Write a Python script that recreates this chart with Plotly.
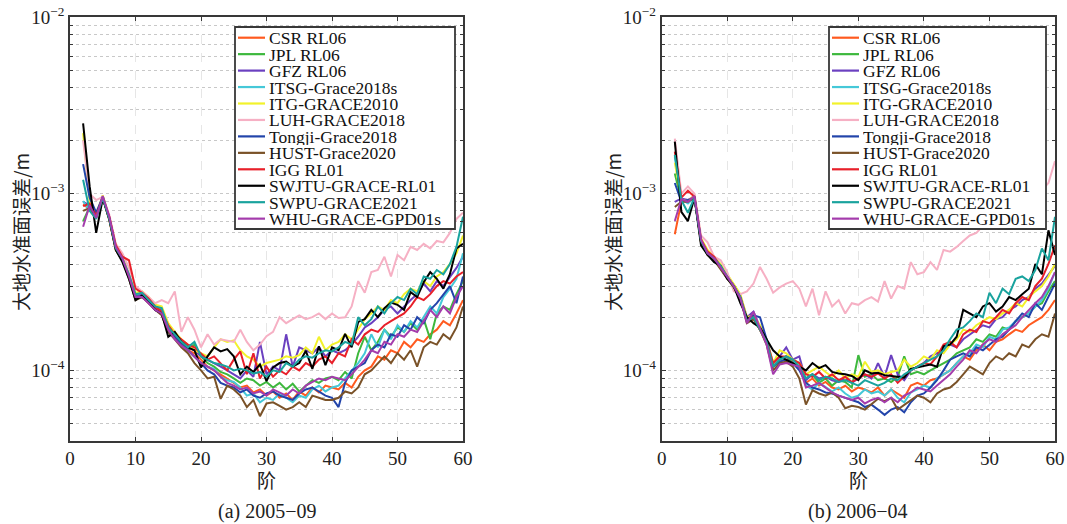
import plotly.graph_objects as go

# ---------------- data (units of 1e-4 m), degree 2..60 ----------------
UNIT = 1e-4
degrees = list(range(2, 61))

names = ["CSR RL06", "JPL RL06", "GFZ RL06", "ITSG-Grace2018s", "ITG-GRACE2010",
         "LUH-GRACE2018", "Tongji-Grace2018", "HUST-Grace2020", "IGG RL01",
         "SWJTU-GRACE-RL01", "SWPU-GRACE2021", "WHU-GRACE-GPD01s"]
colors = ["#FF5A1F", "#3DB83D", "#6B40C0", "#45C8D8", "#F2F22A", "#F6B0C4",
          "#2244AA", "#7A5228", "#E8202A", "#000000", "#1AA39E", "#A43CAC"]

# ---- (a) 2005-09 ----
csr_a = [8.7, 8.2, 7.3, 9.5, 7.1, 4.8, 4.2, 3.4, 2.6, 2.65,
         2.45, 2.25, 2.1, 1.7, 1.55, 1.4, 1.3, 1.25, 1.15, 1.05,
         1.0, 0.95, 0.9, 0.85, 0.8, 0.82, 0.75, 0.78, 0.72, 0.76,
         0.7, 0.74, 0.68, 0.76, 0.72, 0.8, 0.75, 0.82, 0.8, 0.78,
         0.85, 0.8, 0.92, 1.0, 1.05, 1.2, 1.15, 1.3, 1.25, 1.45,
         1.35, 1.5, 1.45, 1.6, 1.7, 1.9, 1.8, 2.1, 2.5]
jpl_a = [7.0, 8.4, 7.5, 9.6, 7.2, 4.9, 4.3, 3.4, 2.65, 2.7,
         2.5, 2.3, 2.2, 1.75, 1.6, 1.45, 1.3, 1.4, 1.2, 1.1,
         1.05, 0.98, 0.95, 0.9, 0.85, 0.9, 0.88, 0.82, 0.86, 0.8,
         0.85, 0.78, 0.84, 0.76, 0.82, 0.88, 0.85, 0.9, 0.92, 0.88,
         0.98, 0.9, 1.25, 1.55, 1.3, 1.45, 1.7, 1.55, 1.75, 1.65,
         1.85, 1.7, 1.95, 1.5, 2.1, 2.3, 2.2, 2.7, 3.2]
gfz_a = [9.0, 8.6, 7.4, 9.7, 7.3, 5.0, 4.3, 3.5, 2.6, 2.7,
         2.5, 2.3, 2.2, 1.8, 1.6, 1.45, 1.35, 1.3, 1.2, 1.15,
         1.1, 1.05, 1.0, 0.95, 0.9, 1.0, 0.92, 1.45, 0.95, 1.05,
         1.0, 1.6, 1.05, 1.35, 1.3, 1.25, 1.35, 1.2, 1.3, 1.25,
         1.3, 1.4, 1.55, 1.75, 1.85, 2.0, 2.2, 2.3, 2.1, 2.3,
         2.5, 2.7, 3.1, 2.8, 3.2, 3.0, 3.4, 3.8, 4.4]
itsg_a = [9.1, 8.0, 7.6, 9.5, 7.2, 4.9, 4.3, 3.4, 2.7, 2.75,
          2.55, 2.3, 2.25, 1.7, 1.55, 1.4, 1.3, 1.2, 1.1, 1.05,
          1.02, 0.92, 0.88, 0.86, 0.8, 0.72, 0.74, 0.66, 0.7, 0.68,
          0.74, 0.7, 0.66, 0.72, 0.7, 0.78, 0.82, 0.76, 0.8, 0.82,
          0.9, 1.0, 1.1, 1.25, 1.6, 1.35, 1.7, 1.5, 1.8, 1.65,
          1.9, 1.75, 2.0, 2.3, 2.1, 2.6, 2.9, 3.3, 4.6]
itg_a = [22.0, 9.0, 7.6, 9.8, 7.4, 5.1, 4.4, 3.5, 2.75, 2.8,
         2.6, 2.35, 2.3, 1.85, 1.65, 1.5, 1.4, 1.3, 1.25, 1.2,
         1.35, 1.5, 1.45, 1.48, 1.3, 1.2, 1.15, 1.05, 1.1, 1.12,
         1.15, 1.2, 1.18, 1.22, 1.35, 1.25, 1.55, 1.3, 1.4, 1.45,
         1.6, 1.5, 1.7, 1.95, 2.1, 2.3, 2.2, 2.5, 2.4, 2.7,
         2.9, 2.8, 3.2, 3.0, 3.4, 3.6, 4.0, 4.6, 5.8]
luh_a = [20.0, 10.0, 9.2, 9.6, 7.6, 5.2, 4.6, 3.8, 3.0, 2.8,
         2.6, 2.4, 2.5, 2.4, 2.8, 1.65, 2.0, 1.7, 1.35, 1.6,
         1.4, 1.5, 1.48, 1.45, 1.7, 1.45, 1.3, 1.4, 1.56, 1.65,
         2.0, 1.85, 1.95, 2.05, 1.95, 2.0, 2.1, 1.95, 2.1, 1.98,
         2.0, 2.3, 3.2, 2.75, 3.6, 3.7, 4.4, 3.4, 4.5, 4.2,
         5.0, 4.8, 5.2, 4.9, 5.4, 5.3, 6.0, 7.2, 7.8]
tongji_a = [14.7, 9.5, 7.8, 9.6, 7.3, 4.9, 4.2, 3.4, 2.55, 2.6,
            2.45, 2.2, 2.1, 1.7, 1.55, 1.4, 1.3, 1.2, 1.1, 1.0,
            0.95, 0.85, 0.82, 0.8, 0.75, 0.78, 0.72, 0.7, 0.74, 0.76,
            0.72, 0.7, 0.68, 0.74, 0.78, 0.8, 0.76, 0.72, 0.7, 0.62,
            0.85, 1.0, 1.05, 1.1, 1.3, 1.4, 1.35, 1.6, 1.55, 1.8,
            1.7, 2.0, 1.85, 2.2, 2.4, 2.7, 3.0, 2.4, 3.4]
hust_a = [8.0, 8.3, 7.4, 9.5, 7.1, 4.8, 4.2, 3.3, 2.5, 2.6,
          2.4, 2.2, 2.05, 1.65, 1.5, 1.35, 1.25, 1.1, 1.0, 0.9,
          0.92, 0.69, 0.82, 0.78, 0.72, 0.62, 0.68, 0.55, 0.65, 0.66,
          0.63, 0.6, 0.62, 0.66, 0.62, 0.72, 0.7, 0.68, 0.68, 0.7,
          0.76, 0.74, 0.8, 0.95, 1.0, 1.1, 1.2, 1.1, 1.25, 1.15,
          1.3, 1.05, 1.35, 1.45, 1.4, 1.6, 1.5, 1.75, 2.3]
igg_a = [8.5, 8.8, 7.5, 9.4, 7.4, 5.1, 4.4, 4.2, 2.9, 2.75,
         2.55, 2.3, 2.15, 1.8, 1.6, 1.5, 1.4, 1.35, 1.25, 1.15,
         1.2, 1.1, 1.0, 1.15, 1.28, 0.95, 1.25, 0.9, 1.05, 0.92,
         1.0, 0.95, 1.05, 1.0, 1.1, 1.05, 1.15, 1.2, 1.1, 1.25,
         1.2, 1.5, 1.4, 1.6, 1.7, 1.65, 1.8, 1.9, 2.0, 2.1,
         2.3, 2.6, 2.5, 2.7, 3.0, 3.2, 3.1, 3.4, 3.6]
swjtu_a = [25.0, 11.0, 6.0, 9.4, 7.2, 4.8, 4.1, 3.3, 2.5, 2.65,
           2.45, 2.2, 2.1, 1.55, 1.65, 1.45, 1.35, 1.3, 1.04, 1.2,
           1.35, 1.28, 1.32, 1.2, 0.95, 1.05, 0.98, 1.08, 0.87, 1.04,
           1.1, 1.12, 1.05, 1.1, 1.29, 1.02, 1.37, 1.07, 1.35, 1.3,
           1.61, 1.35, 1.88, 1.95, 2.2, 2.0, 2.25, 2.42, 2.35, 2.2,
           2.77, 2.6, 3.15, 3.6, 3.3, 2.9, 3.5, 4.9, 5.2]
swpu_a = [12.0, 8.0, 7.2, 9.5, 7.2, 4.9, 4.3, 3.5, 2.7, 2.75,
          2.5, 2.3, 2.25, 1.75, 1.6, 1.45, 1.35, 1.45, 1.2, 1.15,
          1.1, 1.08, 1.05, 1.0, 1.02, 1.0, 0.96, 0.98, 0.92, 1.0,
          0.98, 1.1, 1.05, 1.15, 1.2, 1.18, 1.25, 1.3, 1.28, 1.35,
          1.45, 1.4, 2.0, 1.8, 1.95, 2.3, 2.1, 2.4, 2.6, 2.5,
          2.9, 2.7, 3.4, 3.3, 3.7, 3.5, 4.0, 5.0, 7.4]
whu_a = [6.5, 8.6, 7.3, 9.7, 7.4, 5.0, 4.3, 3.4, 2.6, 2.6,
         2.4, 2.2, 2.1, 1.7, 1.5, 1.38, 1.3, 1.2, 1.1, 1.05,
         1.0, 0.92, 0.85, 0.82, 0.78, 0.8, 0.74, 0.76, 0.72, 0.78,
         0.75, 0.72, 0.78, 0.74, 0.82, 0.86, 0.9, 0.88, 0.92, 0.9,
         0.88, 0.95, 1.05, 1.15, 1.3, 1.25, 1.45, 1.4, 1.6, 1.55,
         1.7, 1.65, 1.9, 2.2, 2.0, 2.3, 2.1, 2.6, 3.0]

# ---- (b) 2006-04 ----
csr_b = [5.9, 9.0, 9.2, 9.5, 5.3, 4.5, 4.2, 3.8, 3.3, 3.0,
         2.6, 1.9, 2.0, 1.7, 1.45, 1.05, 1.15, 1.2, 1.1, 1.05,
         0.85, 0.9, 0.82, 0.86, 0.8, 0.78, 0.82, 0.76, 0.8, 0.78,
         0.75, 0.8, 0.72, 0.78, 0.74, 0.7, 0.82, 0.85, 0.82, 0.88,
         0.9, 0.95, 1.0, 1.1, 1.2, 1.15, 1.3, 1.4, 1.3, 1.45,
         1.5, 1.6, 1.7, 1.65, 1.8, 1.9, 2.0, 2.2, 2.5]
jpl_b = [13.0, 9.2, 9.0, 9.6, 5.4, 4.6, 4.3, 3.9, 3.4, 3.0,
         2.6, 1.9, 2.0, 1.7, 1.45, 1.05, 1.15, 1.2, 1.1, 1.05,
         0.9, 0.95, 0.85, 0.9, 0.82, 0.88, 0.86, 0.8, 1.22, 0.92,
         0.95, 0.88, 0.9, 0.86, 0.92, 1.2, 0.95, 0.98, 0.95, 1.0,
         1.05, 1.1, 1.15, 1.25, 1.3, 1.35, 1.5, 1.45, 1.6, 1.55,
         1.75, 1.7, 1.9, 2.0, 2.1, 2.3, 2.4, 2.8, 3.2]
gfz_b = [9.0, 9.4, 9.2, 9.7, 5.5, 4.7, 4.3, 3.9, 3.4, 3.05,
         2.65, 2.0, 2.15, 1.75, 1.5, 1.1, 1.2, 1.35, 1.15, 1.2,
         0.88, 0.95, 0.9, 0.92, 0.88, 0.86, 0.9, 0.85, 0.9, 0.95,
         0.9, 1.1, 0.92, 1.22, 0.95, 0.88, 1.0, 1.05, 1.1, 1.2,
         1.25, 1.3, 1.4, 1.35, 1.5, 1.6, 1.7, 1.8, 1.75, 1.95,
         2.0, 2.2, 2.3, 2.5, 2.6, 2.9, 3.1, 3.5, 3.9]
itsg_b = [16.2, 9.3, 8.8, 9.5, 5.4, 4.6, 4.3, 3.9, 3.4, 3.0,
          2.6, 1.9, 2.0, 1.7, 1.45, 1.05, 1.15, 1.2, 1.15, 1.1,
          0.82, 0.78, 0.85, 0.8, 0.76, 0.8, 0.74, 0.7, 0.72, 0.78,
          0.74, 0.76, 0.72, 0.78, 0.7, 0.66, 0.75, 0.78, 0.82, 0.8,
          0.9, 0.95, 1.0, 1.1, 1.2, 1.25, 1.4, 1.35, 1.55, 1.5,
          1.7, 1.75, 1.9, 2.0, 2.1, 2.3, 2.5, 2.9, 3.6]
itg_b = [15.0, 9.2, 9.1, 9.8, 5.6, 4.8, 4.4, 4.0, 3.5, 3.1,
         2.7, 2.0, 2.05, 1.8, 1.5, 1.1, 1.3, 1.25, 1.15, 1.1,
         0.95, 1.0, 1.05, 0.98, 0.92, 1.0, 0.9, 0.95, 0.92, 1.12,
         0.98, 1.0, 0.95, 0.98, 1.0, 1.15, 1.05, 1.1, 1.2, 1.15,
         1.3, 1.25, 1.4, 1.5, 1.7, 1.65, 1.8, 1.9, 2.0, 1.95,
         2.1, 2.2, 2.4, 2.3, 2.6, 2.8, 3.0, 3.4, 4.0]
luh_b = [20.5, 10.0, 11.0, 10.0, 5.8, 5.3, 4.4, 4.2, 3.6, 2.8,
         2.7, 2.8, 3.1, 3.85, 3.3, 2.75, 2.95, 3.1, 3.2, 2.9,
         2.3, 2.9, 2.05, 2.8, 2.3, 2.5, 2.1, 2.4, 2.35, 2.5,
         2.6, 2.45, 3.2, 2.55, 3.0, 2.9, 4.1, 3.5, 3.6, 4.1,
         3.7, 4.8, 4.7, 5.0, 5.4, 5.8, 6.0, 6.6, 7.2, 7.8,
         8.3, 8.8, 9.3, 10.0, 10.5, 11.0, 10.5, 11.5, 15.3]
tongji_b = [11.5, 9.0, 9.2, 9.5, 5.4, 4.6, 4.3, 3.8, 3.3, 3.0,
            2.6, 1.95, 2.05, 2.0, 1.5, 1.05, 1.12, 1.15, 1.1, 1.0,
            0.85, 0.8, 0.78, 0.75, 0.74, 0.72, 0.7, 0.68, 0.66, 0.62,
            0.64, 0.6, 0.56, 0.6, 0.62, 0.58, 0.66, 0.72, 0.74, 0.8,
            0.88, 1.0, 1.15, 1.2, 1.25, 1.2, 1.35, 1.3, 1.4, 1.5,
            1.55, 1.7, 1.9, 2.1, 2.0, 2.4, 2.2, 2.6, 3.1]
hust_b = [8.4, 9.0, 9.0, 9.5, 5.3, 4.5, 4.2, 3.7, 3.3, 2.95,
          2.55, 1.85, 1.95, 1.7, 1.4, 1.0, 1.1, 1.12, 1.05, 0.9,
          0.64, 0.77, 0.74, 0.72, 0.75, 0.7, 0.61, 0.63, 0.62, 0.6,
          0.64, 0.69, 0.67, 0.7, 0.6, 0.64, 0.68, 0.72, 0.7, 0.66,
          0.74, 0.78, 0.8, 0.86, 0.95, 1.05, 1.0, 0.95, 1.1, 1.2,
          1.15, 1.25, 1.2, 1.4, 1.35, 1.5, 1.6, 1.55, 2.1]
igg_b = [17.3, 9.5, 10.4, 9.6, 5.5, 4.7, 4.4, 3.9, 3.4, 3.0,
         2.6, 1.95, 2.0, 1.7, 1.45, 1.1, 1.2, 1.2, 1.15, 1.1,
         0.95, 0.92, 0.98, 0.9, 0.95, 0.88, 0.92, 0.86, 0.9, 0.95,
         0.92, 0.96, 0.9, 0.95, 0.85, 0.92, 1.0, 1.05, 1.1, 1.08,
         1.2, 1.4, 1.45, 1.35, 1.6, 1.7, 1.65, 1.9, 1.85, 2.0,
         2.2, 2.1, 2.4, 2.6, 2.5, 3.0, 3.3, 4.0, 5.1]
swjtu_b = [19.7, 7.9, 7.0, 9.5, 5.1, 4.5, 4.1, 3.9, 3.3, 3.0,
           2.4, 2.0, 1.85, 1.75, 1.5, 1.3, 1.2, 1.15, 1.1, 1.05,
           1.0, 1.1, 1.03, 1.07, 0.98, 0.96, 0.95, 0.93, 0.88, 1.0,
           0.96, 0.97, 0.94, 0.93, 0.92, 0.91, 1.02, 1.04, 1.06, 1.08,
           1.05, 1.37, 1.4, 1.55, 2.2, 2.1, 2.0, 2.3, 2.4, 2.15,
           2.3, 2.6, 2.5, 2.7, 2.9, 4.0, 3.5, 6.2, 4.5]
swpu_b = [16.6, 9.2, 7.8, 9.5, 5.4, 4.6, 4.3, 3.9, 3.4, 3.0,
          2.6, 1.9, 2.0, 1.7, 1.45, 1.05, 1.15, 1.2, 1.15, 1.05,
          0.9, 0.95, 0.88, 0.92, 0.9, 0.86, 0.88, 0.85, 0.82, 0.88,
          0.85, 0.82, 0.85, 0.9, 0.88, 0.95, 1.0, 1.05, 1.1, 1.15,
          1.2, 1.3, 1.5, 1.7, 1.75, 1.9, 2.1, 2.0, 2.75, 2.4,
          2.9, 2.7, 3.3, 3.4, 3.2, 3.7, 4.9, 4.2, 7.4]
whu_b = [7.0, 9.3, 9.0, 9.7, 5.5, 4.6, 4.3, 3.8, 3.35, 3.0,
         2.55, 1.85, 2.15, 1.75, 1.4, 0.95, 1.08, 1.1, 1.08, 1.05,
         0.8, 0.82, 0.85, 0.8, 0.75, 0.72, 0.7, 0.68, 0.7, 0.65,
         0.68, 0.7, 0.66, 0.7, 0.66, 0.72, 0.75, 0.8, 0.78, 0.76,
         0.82, 0.88, 0.95, 1.05, 1.15, 1.3, 1.25, 1.4, 1.5, 1.45,
         1.6, 1.7, 1.8, 2.0, 2.2, 2.4, 2.6, 3.0, 3.6]

panel_a = [csr_a, jpl_a, gfz_a, itsg_a, itg_a, luh_a, tongji_a, hust_a, igg_a, swjtu_a, swpu_a, whu_a]
panel_b = [csr_b, jpl_b, gfz_b, itsg_b, itg_b, luh_b, tongji_b, hust_b, igg_b, swjtu_b, swpu_b, whu_b]

x_ticks = [0, 10, 20, 30, 40, 50, 60]
y_ticks = [1e-4, 1e-3, 1e-2]
y_ticktext = ["10<sup>−4</sup>", "10<sup>−3</sup>", "10<sup>−2</sup>"]
captions = ["(a) 2005−09", "(b) 2006−04"]
x_title = "阶"
y_title = "大地水准面误差/m"

# ---------------- figure ----------------
W, H = 1067, 524
FONT = "Liberation Serif, Times New Roman, Noto Sans CJK SC, serif"
CJK = "Noto Sans CJK SC, Liberation Serif"


def px(x):
    return x / W


def py(y):
    return 1 - y / H


fig = go.Figure()
for panel, (xa, ya) in zip([panel_a, panel_b], [("x", "y"), ("x2", "y2")]):
    for name, col, vals in zip(names, colors, panel):
        fig.add_trace(go.Scatter(
            x=degrees, y=[v * UNIT for v in vals], mode="lines", name=name,
            line=dict(color=col, width=2), xaxis=xa, yaxis=ya, showlegend=False))

minor_vals = [k * 10.0 ** e for e in (-5, -4, -3) for k in range(2, 10)]

axis_common = dict(showline=True, linecolor="#383838", linewidth=1.8, mirror="allticks",
                   ticks="inside", ticklen=4, tickcolor="#383838", zeroline=False,
                   automargin=False,
                   tickfont=dict(family=FONT, size=19, color="#222222"))

xdomains = [[px(70), px(463)], [px(661.7), px(1055)]]
ydomain = [py(440.7), py(17)]

for i, suf in enumerate(["", "2"]):
    fig.update_layout(**{
        "xaxis" + suf: dict(domain=xdomains[i], range=[0, 60], tickvals=x_ticks,
                            showgrid=True, gridcolor="#e6e6e6", griddash="dash", gridwidth=1,
                            anchor="y" + suf, **axis_common),
        "yaxis" + suf: dict(domain=ydomain, type="log", range=[-4.398, -2],
                            tickvals=y_ticks, ticktext=y_ticktext,
                            showgrid=True, gridcolor="#c8c8c8", griddash="dot", gridwidth=1,
                            anchor="x" + suf,
                            minor=dict(tickvals=minor_vals, ticks="inside", ticklen=3,
                                       tickcolor="#383838", showgrid=True,
                                       gridcolor="#c8c8c8", griddash="dot", gridwidth=1),
                            **axis_common),
    })

# ---- legends (one boxed legend per panel, drawn above the lines) ----
shapes = []
annots = []
legend_boxes = [(235, 455), (829, 1046)]
legend_top, legend_bottom = 27, 229
row0, row_step = 37.7, 16.45
for (bx0, bx1) in legend_boxes:
    shapes.append(dict(type="rect", xref="paper", yref="paper", layer="above",
                       x0=px(bx0), x1=px(bx1), y0=py(legend_bottom), y1=py(legend_top),
                       fillcolor="white", line=dict(color="#383838", width=1.8)))
    for k, (name, col) in enumerate(zip(names, colors)):
        yc = row0 + k * row_step
        shapes.append(dict(type="line", xref="paper", yref="paper", layer="above",
                           x0=px(bx0 + 3), x1=px(bx0 + 30), y0=py(yc), y1=py(yc),
                           line=dict(color=col, width=2.2)))
        annots.append(dict(text=name, x=px(bx0 + 32), y=py(yc + 0.5), xref="paper", yref="paper",
                           showarrow=False, xanchor="left", yanchor="middle", height=16,
                           font=dict(family=FONT, size=17.5, color="#111111")))

centers = [266.5, 858.3]
ytitle_x = [20, 612]
for i in range(2):
    annots.append(dict(text=x_title, x=px(centers[i]), y=py(479), xref="paper", yref="paper",
                       showarrow=False, font=dict(family=CJK, size=19, color="#222222"),
                       xanchor="center", yanchor="middle"))
    annots.append(dict(text=captions[i], x=px(centers[i]), y=py(511), xref="paper", yref="paper",
                       showarrow=False, font=dict(family=FONT, size=20, color="#222222"),
                       xanchor="center", yanchor="middle"))
    annots.append(dict(text=y_title, x=px(ytitle_x[i]), y=py(232), xref="paper", yref="paper",
                       showarrow=False, textangle=-90, font=dict(family=CJK, size=19, color="#222222"),
                       xanchor="center", yanchor="middle"))

fig.update_layout(
    width=W, height=H, margin=dict(l=0, r=0, t=0, b=0, autoexpand=False),
    paper_bgcolor="white", plot_bgcolor="white",
    annotations=annots, shapes=shapes, showlegend=False,
)

fig.write_html("out.html", config={"displayModeBar": False},
               post_script="document.body.style.margin='0px';document.body.style.padding='0px';")
